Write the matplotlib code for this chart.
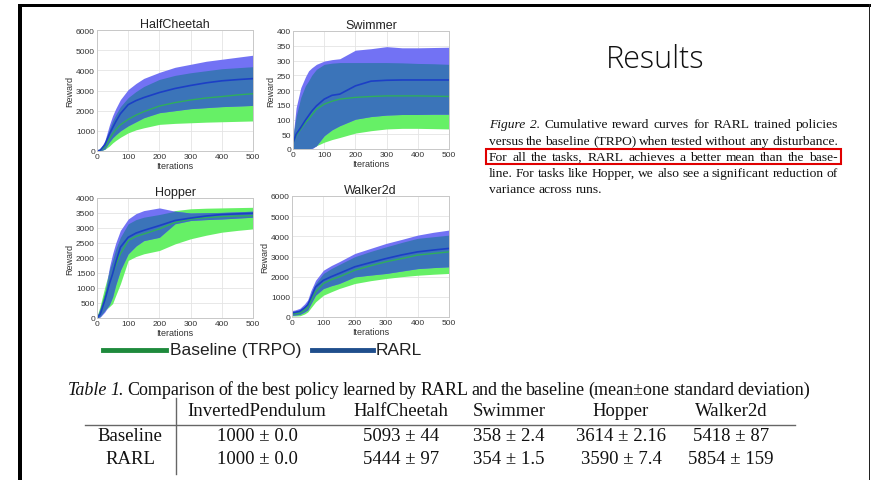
import numpy as np
import matplotlib.pyplot as plt
from matplotlib.lines import Line2D
from matplotlib.patches import Rectangle

W, H = 871, 481

# iteration knots
iters = [0, 10, 25, 40, 50, 60, 75, 100, 125, 150, 200, 250, 300, 350, 400, 450, 500]

# HalfCheetah
hc_base_mean = [0, 30, 200, 600, 850, 1050, 1300, 1570, 1780, 1950, 2230, 2400, 2530, 2630, 2700, 2780, 2840]
hc_base_lo = [0, 0, 80, 250, 400, 520, 680, 900, 1050, 1150, 1320, 1370, 1400, 1430, 1450, 1470, 1490]
hc_base_hi = [0, 80, 400, 1100, 1500, 1800, 2200, 2650, 2950, 3200, 3550, 3750, 3880, 3980, 4080, 4130, 4180]
hc_rarl_mean = [0, 40, 300, 850, 1150, 1450, 1850, 2300, 2500, 2650, 2900, 3100, 3250, 3380, 3480, 3540, 3590]
hc_rarl_lo = [0, 0, 100, 450, 650, 800, 1000, 1250, 1450, 1650, 1900, 2000, 2100, 2150, 2200, 2230, 2260]
hc_rarl_hi = [0, 100, 500, 1300, 1750, 2100, 2550, 3050, 3350, 3600, 3900, 4150, 4300, 4450, 4550, 4650, 4750]

# Swimmer
sw_base_mean = [20, 45, 68, 90, 101, 115, 135, 152, 162, 169, 175, 178, 180, 180, 180, 179, 178]
sw_base_lo = [0, 0, 0, 0, 0, 3, 11, 23, 32, 39, 54, 62, 68, 70, 70, 69, 68]
sw_base_hi = [40, 110, 175, 215, 231, 250, 270, 287, 291, 293, 293, 293, 293, 292, 290, 289, 287]
sw_rarl_mean = [20, 50, 73, 98, 113, 128, 146, 169, 182, 186, 214, 230, 233, 234, 234, 234, 234]
sw_rarl_lo = [0, 0, 0, 0, 0, 0, 11, 45, 65, 79, 101, 110, 115, 117, 117, 118, 118]
sw_rarl_hi = [40, 140, 208, 245, 265, 275, 287, 298, 303, 306, 335, 340, 347, 343, 343, 344, 345]

# Hopper
ho_base_mean = [0, 150, 700, 1200, 1470, 1750, 2140, 2580, 2720, 2800, 2970, 3190, 3300, 3350, 3380, 3400, 3410]
ho_base_lo = [0, 50, 250, 380, 480, 750, 1140, 1920, 2050, 2140, 2250, 2470, 2640, 2760, 2860, 2920, 2970]
ho_base_hi = [50, 400, 1030, 1600, 1920, 2300, 2690, 3140, 3280, 3360, 3450, 3580, 3640, 3660, 3670, 3680, 3690]
ho_rarl_mean = [0, 120, 590, 1150, 1470, 1850, 2360, 2690, 2830, 2920, 3080, 3250, 3330, 3400, 3450, 3470, 3490]
ho_rarl_lo = [0, 30, 200, 450, 700, 1100, 1590, 2140, 2400, 2580, 2690, 3140, 3250, 3280, 3300, 3330, 3360]
ho_rarl_hi = [50, 300, 810, 1700, 2140, 2500, 2920, 3300, 3480, 3580, 3670, 3560, 3500, 3510, 3520, 3540, 3560]

# Walker2d
wa_base_mean = [150, 170, 200, 350, 500, 800, 1240, 1660, 1850, 1990, 2320, 2540, 2740, 2900, 3070, 3150, 3230]
wa_base_lo = [50, 50, 60, 150, 250, 450, 750, 1080, 1250, 1410, 1660, 1800, 1910, 2000, 2070, 2120, 2160]
wa_base_hi = [250, 280, 350, 520, 700, 1100, 1660, 2160, 2400, 2600, 2990, 3250, 3480, 3700, 3900, 3980, 4060]
wa_rarl_mean = [200, 230, 280, 450, 600, 950, 1490, 1820, 2000, 2160, 2490, 2700, 2900, 3080, 3230, 3320, 3400]
wa_rarl_lo = [80, 100, 130, 250, 350, 650, 1080, 1410, 1550, 1660, 1990, 2080, 2160, 2280, 2400, 2450, 2490]
wa_rarl_hi = [320, 350, 430, 650, 850, 1300, 1820, 2320, 2550, 2740, 3150, 3400, 3650, 3850, 4060, 4200, 4310]

table_cols = ['InvertedPendulum', 'HalfCheetah', 'Swimmer', 'Hopper', 'Walker2d']
table_rows = ['Baseline', 'RARL']
table_vals = [['1000 ± 0.0', '5093 ± 44', '358 ± 2.4', '3614 ± 2.16', '5418 ± 87'],
              ['1000 ± 0.0', '5444 ± 97', '354 ± 1.5', '3590 ± 7.4', '5854 ± 159']]

caption_lines = [
    'Figure 2. Cumulative reward curves for RARL trained policies',
    'versus the baseline (TRPO) when tested without any disturbance.',
    'For all the tasks, RARL achieves a better mean than the base-',
    'line. For tasks like Hopper, we also see a significant reduction of',
    'variance across runs.',
]

GREEN_FILL = '#66f066'
BLUE_FILL = '#7272f4'
OVERLAP = '#3b74b9'
GREEN_LINE = '#2fae5c'
BLUE_LINE = '#1c3fc6'


def rect(l, t, r, b):
    return [l / W, 1 - b / H, (r - l) / W, (b - t) / H]


fig = plt.figure(figsize=(W / 100, H / 100), dpi=100)
fig.patch.set_facecolor('white')
plt.rcParams['font.family'] = ['Liberation Sans', 'DejaVu Sans']


def panel(box, title, ymax, ystep, base, rarl):
    ax = fig.add_axes(rect(*box))
    b_mean, b_lo, b_hi = [np.array(v, float) for v in base]
    r_mean, r_lo, r_hi = [np.array(v, float) for v in rarl]
    ax.fill_between(iters, b_lo, b_hi, color=GREEN_FILL, lw=0)
    ax.fill_between(iters, r_lo, r_hi, color=BLUE_FILL, lw=0)
    lo = np.maximum(b_lo, r_lo)
    hi = np.minimum(b_hi, r_hi)
    ax.fill_between(iters, lo, hi, where=hi >= lo, interpolate=True, color=OVERLAP, lw=0)
    ax.plot(iters, b_mean, color=GREEN_LINE, lw=1)
    ax.plot(iters, r_mean, color=BLUE_LINE, lw=1.2)
    ax.set_xlim(0, 500)
    ax.set_ylim(0, ymax)
    ax.set_xticks(range(0, 501, 100))
    ax.set_yticks(np.arange(0, ymax + 1, ystep))
    ax.set_axisbelow(True)
    ax.grid(color='#e4e4e4', lw=0.6)
    for s in ax.spines.values():
        s.set_color('#c8c8c8')
        s.set_linewidth(0.7)
    ax.tick_params(labelsize=6, colors='#333333', length=0, pad=1.5)
    ax.set_title(title, fontsize=9, pad=2.5, color='#222222')
    ax.set_ylabel('Reward', fontsize=6.5, labelpad=1, color='#333333')
    ax.set_xlabel('Iterations', fontsize=6.5, labelpad=0.5, color='#333333')
    return ax


panel((97, 31, 253, 152), 'HalfCheetah', 6000, 1000,
      (hc_base_mean, hc_base_lo, hc_base_hi), (hc_rarl_mean, hc_rarl_lo, hc_rarl_hi))
panel((293, 32, 449, 150), 'Swimmer', 400, 50,
      (sw_base_mean, sw_base_lo, sw_base_hi), (sw_rarl_mean, sw_rarl_lo, sw_rarl_hi))
panel((97, 199, 253, 319), 'Hopper', 4000, 500,
      (ho_base_mean, ho_base_lo, ho_base_hi), (ho_rarl_mean, ho_rarl_lo, ho_rarl_hi))
panel((292, 197, 449, 318), 'Walker2d', 6000, 1000,
      (wa_base_mean, wa_base_lo, wa_base_hi), (wa_rarl_mean, wa_rarl_lo, wa_rarl_hi))

# legend under the panels
ly = 1 - 351 / H
fig.add_artist(Line2D([103 / W, 166 / W], [ly, ly], color='#1e8a3c', lw=3.5))
fig.text(170 / W, ly, 'Baseline (TRPO)', fontsize=12.5, va='center', color='#222222')
fig.add_artist(Line2D([312 / W, 373 / W], [ly, ly], color='#1f4e8c', lw=3.5))
fig.text(376 / W, ly, 'RARL', fontsize=12.5, va='center', color='#222222')

# slide title
fig.text(655 / W, 1 - 60 / H, 'Results', fontsize=22, family=['Open Sans', 'DejaVu Sans'],
         weight='light', ha='center', va='center', color='#111111')

renderer = fig.canvas.get_renderer()


def place_words(tokens, x0, y, x1=None, fs=9.7):
    arts = []
    for word, style in tokens:
        arts.append(fig.text(0, 1 - y / H, word, fontsize=fs, family='Liberation Serif',
                             style=style, va='baseline', ha='left', color='#111111'))
    widths = [t.get_window_extent(renderer).width for t in arts]
    if x1 is None or len(arts) < 2:
        gap = fs * 100 / 72 * 0.25
    else:
        gap = (x1 - x0 - sum(widths)) / (len(arts) - 1)
    x = x0
    for t, w in zip(arts, widths):
        t.set_x(x / W)
        x += w + gap
    return x


cap_y = [128, 145, 161, 177, 193]
for i, line in enumerate(caption_lines):
    words = line.split(' ')
    toks = [(w, 'italic' if (i == 0 and j < 2) else 'normal') for j, w in enumerate(words)]
    place_words(toks, 489, cap_y[i], None if i == len(caption_lines) - 1 else 838)

fig.add_artist(Rectangle((486 / W, 1 - 165 / H), (841 - 486) / W, 15 / H,
                         transform=fig.transFigure, fill=False, ec='#e00000', lw=1.5))

# table
tab_fs = 13.5
cap = 'Table 1. Comparison of the best policy learned by RARL and the baseline (mean±one standard deviation)'
cw = cap.split(' ')
place_words([(w, 'italic' if j < 2 else 'normal') for j, w in enumerate(cw)], 68, 395, 810, fs=13)

col_x = [257, 401, 509, 621, 731]
row_x = 130
for cx, name in zip(col_x, table_cols):
    fig.text(cx / W, 1 - 416 / H, name, fontsize=tab_fs, family='Liberation Serif',
             ha='center', va='baseline', color='#111111')
for ry, rname, vals in zip([441, 464], table_rows, table_vals):
    fig.text(row_x / W, 1 - ry / H, rname, fontsize=tab_fs, family='Liberation Serif',
             ha='center', va='baseline', color='#111111')
    for cx, v in zip(col_x, vals):
        fig.text(cx / W, 1 - ry / H, v, fontsize=tab_fs, family='Liberation Serif',
                 ha='center', va='baseline', color='#111111')
fig.add_artist(Line2D([85 / W, 795 / W], [1 - 426 / H] * 2, color='#666666', lw=1))
fig.add_artist(Line2D([176 / W, 176 / W], [1 - 399 / H, 1 - 475 / H], color='#666666', lw=1))

# slide frame
fig.add_artist(Rectangle((18 / W, 0), 4 / W, 1 - 5 / H, transform=fig.transFigure, color='black', lw=0))
fig.add_artist(Rectangle((18 / W, 1 - 8 / H), (871 - 18) / W, 3 / H, transform=fig.transFigure, color='black', lw=0))
fig.add_artist(Rectangle((868.5 / W, 0), 1.5 / W, 1 - 5 / H, transform=fig.transFigure, color='#222222', lw=0))

fig.savefig('out.png', dpi=100)
